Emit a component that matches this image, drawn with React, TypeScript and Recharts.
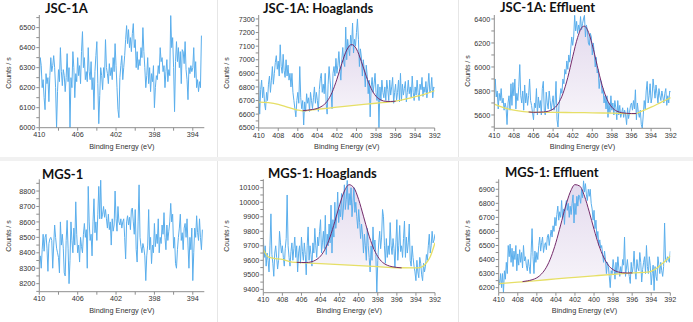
import React from 'react';
import { ComposedChart, XAxis, YAxis, Line, Area } from 'recharts';

// N 1s scans, 0.1 eV steps starting at 410 eV (counts / s)
const jscRaw = [
  6230, 6350, 6310, 6200, 6240, 6150, 6090, 6270, 6220, 6250,
  6130, 6260, 6350, 6280, 6310, 6360, 6300, 6200, 6000, 6180,
  6290, 6230, 6400, 6280, 6210, 6290, 6260, 6180, 6250, 6370,
  6230, 6300, 5990, 6250, 6200, 6380, 6300, 6150, 6270, 6230,
  6350, 6260, 6310, 6220, 6380, 6480, 6300, 6350, 6240, 6280,
  6230, 6400, 6280, 6240, 6330, 6190, 6250, 6090, 6280, 6360,
  6430, 6220, 6020, 6160, 6300, 6260, 6190, 6300, 6250, 6440,
  6300, 6270, 6220, 6320, 6260, 6300, 6240, 6350, 6280, 6420,
  6310, 6200, 6090, 6050, 6250, 6310, 6360, 6240, 6300, 6360,
  6440, 6510, 6420, 6490, 6400, 6450, 6380, 6470, 6520, 6400,
  6440, 6300, 6380, 6290, 6340, 6310, 6400, 6350, 6500, 6380,
  6300, 6200, 6260, 6350, 6220, 6300, 6180, 6270, 6230, 6310,
  6100, 6200, 6260, 6240, 6310, 6270, 6400, 6330, 6350, 6280,
  6310, 6200, 6280, 6340, 6230, 6290, 6260, 6560, 6400, 6450,
  6300, 6080, 6330, 6430, 6330, 6400, 6300, 6380, 6220, 6390,
  6380, 6320, 6430, 6290, 6240, 6140, 6300, 6270, 6310, 6280,
  6300, 6400, 6250, 6330, 6200, 6240, 6180, 6230, 6200, 6460,
];

const jscHoaglands = [
  6840, 6600, 6780, 6850, 6720, 6800, 6680, 6630, 6760, 6700,
  6820, 6880, 6760, 6850, 6950, 6820, 6900, 6980, 7030, 6930,
  6990, 6880, 7110, 6950, 6900, 7040, 6920, 6870, 7000, 6880,
  6960, 6850, 6900, 6800, 6900, 6760, 6700, 6640, 6580, 6700,
  6760, 6680, 6950, 6720, 6640, 6700, 6520, 6690, 6620, 6750,
  6680, 6720, 6620, 6760, 6700, 6640, 6720, 6800, 6680, 6760,
  6700, 6620, 6780, 6860, 6900, 6760, 6820, 6750, 6900, 6680,
  6600, 6820, 6950, 6850, 6760, 6640, 6900, 6950, 6880, 7010,
  6900, 6960, 7060, 6940, 6850, 7000, 7090, 6980, 6950, 7240,
  7000, 7150, 7080, 7030, 7180, 7100, 7270, 7050, 7150, 7100,
  7200, 7300, 7150, 6950, 7080, 7020, 6880, 7000, 6920, 6800,
  6960, 6880, 6750, 6850, 6580, 6800, 6870, 6760, 6820, 6900,
  6760, 6700, 6820, 6500, 6800, 6700, 6850, 6760, 6720, 6800,
  6700, 6850, 6780, 6700, 6850, 6740, 6800, 6870, 6680, 6760,
  6820, 6700, 6760, 6850, 6690, 6900, 6700, 6820, 6740, 6790,
  6840, 6690, 6760, 6850, 6750, 6800, 6720, 6880, 6760, 6700,
  6800, 6740, 6850, 6760, 6700, 6820, 6780, 6870, 6730, 6800,
  6760, 6840, 6720, 6800, 6900, 6760, 6780, 6870, 6720, 6800,
  6790,
];

const jscEffluent = [
  5700, 5900, 5750, 5800, 5650, 5780, 5720, 5820, 5700, 5740,
  5640, 5700, 5660, 5520, 5700, 5760, 5640, 5860, 5680, 5870,
  5760, 5900, 5650, 5780, 5720, 5840, 6020, 5760, 5700, 5800,
  5640, 5850, 5700, 5780, 5680, 5760, 5900, 5720, 5680, 5620,
  5560, 5700, 5660, 5820, 5600, 5750, 5660, 5720, 5600, 5820,
  5880, 5640, 5600, 5790, 5700, 5650, 5800, 5720, 5640, 5700,
  5760, 5640, 5700, 5880, 5560, 5500, 5680, 5750, 5820, 5780,
  5900, 5860, 5980, 5940, 6050, 5980, 6100, 6040, 6150, 6250,
  6180, 6250, 6430, 6300, 6380, 6280, 6350, 6300, 6420, 6310,
  6360, 6400, 6430, 6250, 6350, 6300, 6200, 6180, 6280, 6250,
  6100, 6200, 6120, 6000, 6080, 5950, 5980, 5820, 5900, 5880,
  5780, 5820, 5700, 5760, 5650, 5760, 5580, 5700, 5620, 5760,
  5640, 5700, 5600, 5720, 5660, 5560, 5720, 5600, 5680, 5580,
  5620, 5660, 5580, 5640, 5600, 5520, 5660, 5570, 5620, 5680,
  5700, 5640, 5720, 5650, 5810, 5560, 5700, 5620, 5580, 5640,
  5520, 5490, 5600, 5720, 5650, 5800, 5880, 5700, 5760, 5860,
  5700, 5750, 5900, 5820, 5740, 5850, 5780, 5700, 5820, 5760,
  5720, 5800, 5750, 5700, 5780, 5820, 5680, 5760, 5700, 5800,
  5790,
];

const mgsRaw = [
  8330, 8380, 8300, 8420, 8520, 8410, 8500, 8520, 8430, 8280,
  8460, 8490, 8500, 8480, 8300, 8450, 8580, 8500, 8430, 8400,
  8370, 8270, 8600, 8450, 8520, 8430, 8270, 8250, 8480, 8610,
  8430, 8200, 8350, 8600, 8480, 8400, 8560, 8450, 8730, 8520,
  8400, 8450, 8340, 8500, 8440, 8400, 8520, 8590, 8500, 8550,
  8300, 8830, 8600, 8480, 8520, 8380, 8600, 8750, 8530, 8600,
  8480, 8650, 8830, 8620, 8870, 8620, 8650, 8700, 8630, 8680,
  8620, 8560, 8650, 8550, 8600, 8450, 8620, 8540, 8580, 8800,
  8620, 8540, 8700, 8600, 8580, 8620, 8560, 8600, 8620, 8500,
  8360, 8600, 8640, 8580, 8630, 8550, 8680, 8690, 8600, 8520,
  8680, 8420, 8340, 8600, 8840, 8500, 8440, 8400, 8460, 8430,
  8380, 8220, 8380, 8450, 8680, 8420, 8500, 8330, 8450, 8400,
  8590, 8440, 8520, 8460, 8620, 8400, 8500, 8460, 8580, 8520,
  8660, 8500, 8420, 8580, 8480, 8540, 8600, 8720, 8600, 8650,
  8430, 8500, 8330, 8300, 8420, 8500, 8560, 8650, 8480, 8530,
  8420, 8560, 8590, 8500, 8620, 8450, 8300, 8500, 8420, 8560,
  8220, 8400, 8560, 8500, 8640, 8530, 8480, 8620, 8500, 8420,
  8550,
];

const mgsHoaglands = [
  9750, 9620, 9700, 9560, 9650, 9600, 9520, 9700, 9920, 9640,
  9580, 9490, 9650, 9700, 9620, 9540, 9600, 9800, 9720, 9650,
  9700, 9620, 9560, 9680, 9750, 10050, 9700, 9620, 9560, 9660,
  9720, 9600, 9680, 9760, 9620, 9700, 9520, 9650, 9700, 9580,
  9760, 9660, 9600, 9720, 9640, 9500, 9700, 9830, 9600, 9700,
  9640, 9560, 9720, 9650, 9820, 9700, 9620, 9760, 9700, 9800,
  9880, 9650, 9720, 9800, 9680, 9910, 9640, 9780, 9700, 9850,
  9720, 9980, 9650, 9880, 9760, 10000, 9820, 9900, 10070, 9860,
  9950, 9900, 10060, 9880, 9960, 10120, 9950, 10020, 10150, 9950,
  10060, 9980, 10100, 9900, 10000, 10100, 9930, 10000, 9900, 9820,
  9950, 9860, 9750, 9850, 9780, 9650, 9780, 9700, 9600, 9820,
  9700, 9620, 9520, 9700, 9600, 9830, 9680, 9740, 9640, 9370,
  9600, 9720, 9800, 9680, 9760, 9950, 9900, 9700, 9580, 9750,
  9620, 9700, 9640, 9860, 9700, 9640, 9750, 9680, 9550, 9720,
  9880, 9600, 9700, 9840, 9660, 9700, 9620, 9750, 9870, 9620,
  9760, 9650, 9720, 9850, 9600, 9560, 9700, 9620, 9560, 9520,
  9460, 9600, 9520, 9480, 9620, 9580, 9500, 9460, 9580, 9520,
  9560, 9640, 9600, 9700, 9780, 9650, 9700, 9800, 9720, 9740,
  9780,
];

const mgsEffluent = [
  6260, 6220, 6300, 6200, 6300, 6160, 6320, 6260, 6380, 6300,
  6500, 6420, 6510, 6380, 6480, 6350, 6460, 6400, 6500, 6320,
  6440, 6360, 6470, 6380, 6450, 6340, 6500, 6390, 6420, 6360,
  6320, 6400, 6350, 6300, 6450, 6620, 6420, 6300, 6460, 6380,
  6450, 6400, 6500, 6560, 6460, 6520, 6560, 6450, 6500, 6520,
  6470, 6560, 6580, 6500, 6560, 6610, 6560, 6640, 6600, 6700,
  6640, 6720, 6780, 6680, 6740, 6700, 6820, 6700, 6760, 6650,
  6780, 6820, 6750, 6800, 6700, 6780, 6720, 6800, 6860, 6660,
  6800, 6720, 6850, 6780, 6860, 6840, 6800, 6900, 6840, 6960,
  6880, 6940, 6860, 6820, 6900, 6850, 6900, 6800, 6760, 6680,
  6750, 6620, 6680, 6550, 6600, 6500, 6540, 6480, 6500, 6440,
  6380, 6460, 6400, 6300, 6380, 6350, 6280, 6200, 6320, 6300,
  6400, 6340, 6260, 6380, 6300, 6420, 6340, 6280, 6350, 6300,
  6400, 6360, 6560, 6280, 6340, 6400, 6320, 6280, 6230, 6380,
  6300, 6350, 6460, 6320, 6260, 6400, 6340, 6320, 6450, 6380,
  6240, 6330, 6380, 6420, 6300, 6500, 6350, 6300, 6420, 6360,
  6220, 6300, 6360, 6180, 6350, 6280, 6250, 6420, 6360, 6300,
  6380, 6320, 6280, 6350, 6660, 6400, 6380, 6420, 6400, 6380,
  6460,
];

// fitted N 1s component and its background under the peak
const jscHoagFitE = [405.5, 405, 404.5, 404, 403.5, 403, 402.5, 402, 401.5, 401, 400.5, 400, 399.5, 399, 398.5, 398, 397.5, 397, 396.5, 396];
const jscHoagFit = [6625, 6629, 6634, 6642, 6660, 6694, 6759, 6857, 6972, 7071, 7112, 7079, 6987, 6879, 6789, 6731, 6704, 6694, 6693, 6695];
const jscHoagFitBg = [6625, 6629, 6632, 6636, 6640, 6643, 6647, 6651, 6654, 6658, 6662, 6666, 6669, 6673, 6677, 6680, 6684, 6688, 6691, 6695];
const jscHoagBgE = [410, 409, 408, 407, 406, 405.5, 404, 402, 400, 398, 396, 395, 394, 393, 392];
const jscHoagBg = [6688, 6684, 6672, 6650, 6630, 6625, 6636, 6651, 6666, 6680, 6695, 6710, 6728, 6748, 6772];

const jscEffFitE = [406.5, 406, 405.5, 405, 404.5, 404, 403.5, 403, 402.5, 402, 401.5, 401, 400.8, 400.5, 400, 399.5, 399, 398.5, 398, 397.5, 397, 396.5, 396, 395.5];
const jscEffFit = [5625, 5622, 5623, 5625, 5631, 5649, 5692, 5777, 5913, 6085, 6245, 6335, 6340, 6311, 6185, 6011, 5848, 5731, 5664, 5632, 5619, 5614, 5612, 5612];
const jscEffFitBg = [5625, 5622, 5622, 5622, 5622, 5622, 5621, 5621, 5620, 5620, 5620, 5619, 5619, 5619, 5618, 5617, 5617, 5616, 5615, 5614, 5613, 5613, 5612, 5612];
const jscEffBgE = [410, 409, 408, 407, 406, 404, 402, 400, 398, 396, 395.6, 395, 394, 393, 392];
const jscEffBg = [5690, 5660, 5640, 5628, 5622, 5622, 5620, 5618, 5615, 5612, 5612, 5630, 5665, 5705, 5745];

const mgsHoagFitE = [406.5, 406, 405.5, 405, 404.5, 404, 403.5, 403, 402.5, 402, 401.5, 401, 400.5, 400, 399.5, 399, 398.5, 398, 397.5, 397, 396.5, 396, 395.5];
const mgsHoagFit = [9586, 9585, 9585, 9589, 9602, 9629, 9680, 9761, 9867, 9982, 10077, 10121, 10099, 10018, 9904, 9788, 9692, 9626, 9586, 9566, 9556, 9551, 9548];
const mgsHoagFitBg = [9586, 9584, 9582, 9580, 9579, 9577, 9575, 9574, 9572, 9570, 9568, 9566, 9565, 9563, 9561, 9560, 9558, 9556, 9554, 9553, 9551, 9549, 9548];
const mgsHoagBgE = [410, 409.5, 409, 408, 407, 406.5, 406, 404, 402, 400, 398, 396, 394, 393.5, 393, 392.5, 392];
const mgsHoagBg = [9675, 9625, 9615, 9606, 9588, 9586, 9584, 9577, 9570, 9563, 9556, 9549, 9548, 9552, 9575, 9625, 9721];

const mgsEffFitE = [407.5, 407, 406.5, 406, 405.5, 405, 404.5, 404, 403.5, 403, 402.5, 402, 401.5, 401, 400.5, 400, 399.5, 399, 398.5, 398, 397.5, 397, 396.5, 396];
const mgsEffFit = [6243, 6248, 6256, 6270, 6298, 6345, 6419, 6521, 6646, 6774, 6879, 6933, 6923, 6851, 6739, 6615, 6503, 6418, 6360, 6328, 6312, 6306, 6304, 6305];
const mgsEffFitBg = [6242, 6245, 6248, 6250, 6253, 6256, 6259, 6262, 6264, 6267, 6270, 6273, 6276, 6278, 6281, 6284, 6287, 6290, 6292, 6295, 6298, 6300, 6302, 6305];
const mgsEffBgE = [410, 408, 406, 404, 402, 400, 398, 396, 394.2, 393.5, 393, 392.5, 392];
const mgsEffBg = [6228, 6239, 6250, 6262, 6273, 6284, 6295, 6305, 6312, 6335, 6362, 6392, 6425];

// axis ticks
const xTicksWide = [410, 408, 406, 404, 402, 400, 398, 396, 394, 392];
const xTicksNarrow = [410, 408, 406, 404, 402, 400, 398, 396, 394];
const xLabelsNarrow = [410, 406, 402, 398, 394];
const jscRawTicks = [6000, 6050, 6100, 6150, 6200, 6250, 6300, 6350, 6400, 6450, 6500, 6550];
const jscRawLabels = [6000, 6100, 6200, 6300, 6400, 6500];
const jscHoagTicks = [6500, 6550, 6600, 6650, 6700, 6750, 6800, 6850, 6900, 6950, 7000, 7050, 7100, 7150, 7200, 7250, 7300];
const jscHoagLabels = [6500, 6600, 6700, 6800, 6900, 7000, 7100, 7200, 7300];
const jscEffTicks = [5500, 5600, 5700, 5800, 5900, 6000, 6100, 6200, 6300, 6400];
const jscEffLabels = [5600, 5800, 6000, 6200, 6400];
const mgsRawTicks = [8150, 8200, 8250, 8300, 8350, 8400, 8450, 8500, 8550, 8600, 8650, 8700, 8750, 8800, 8850];
const mgsRawLabels = [8200, 8300, 8400, 8500, 8600, 8700, 8800];
const mgsHoagTicks = [9400, 9450, 9500, 9550, 9600, 9650, 9700, 9750, 9800, 9850, 9900, 9950, 10000, 10050, 10100, 10150];
const mgsHoagLabels = [9400, 9500, 9600, 9700, 9800, 9900, 10000, 10100];
const mgsEffTicks = [6200, 6250, 6300, 6350, 6400, 6450, 6500, 6550, 6600, 6650, 6700, 6750, 6800, 6850, 6900, 6950];
const mgsEffLabels = [6200, 6300, 6400, 6500, 6600, 6700, 6800, 6900];

const BLUE = '#5aaeec';
const PURPLE = '#742a6a';
const YELLOW = '#e6df66';
const AXIS = '#8e8e8e';
const TEXT = '#333';
const SANS = '"Liberation Sans", Arial, sans-serif';

type Pt = { e: number; c: number };

const scan = (counts: number[]): Pt[] =>
  counts.map((c, i) => ({ e: Math.round((410 - i * 0.1) * 10) / 10, c }));
const pairs = (es: number[], vs: number[]): Pt[] => es.map((e, i) => ({ e, c: vs[i] }));
const peak = (es: number[], fit: number[], bg: number[]) =>
  es.map((e, i) => ({ e, fit: fit[i], band: [bg[i], fit[i]] }));

const xTick = (labels: number[]) => (props: any) => {
  const { x, y, payload } = props;
  if (!labels.includes(payload.value)) return <g />;
  return (
    <text x={x} y={y} dy={5.5} textAnchor="middle" fontSize={7.2} fill={TEXT} fontFamily={SANS}>
      {payload.value}
    </text>
  );
};

const yTick = (labels: number[]) => (props: any) => {
  const { x, y, payload } = props;
  if (!labels.includes(payload.value)) return <g />;
  return (
    <text x={x} y={y} dy={2.6} textAnchor="end" fontSize={7.2} fill={TEXT} fontFamily={SANS}>
      {payload.value}
    </text>
  );
};

interface PanelProps {
  id: string;
  box: { left: number; top: number; width: number; height: number };
  plot: { x0: number; x1: number; y0: number; y1: number };
  xDomain: [number, number];
  xTicks: number[];
  xLabels: number[];
  yDomain: [number, number];
  yTicks: number[];
  yLabels: number[];
  spectrum: Pt[];
  background?: Pt[];
  fit?: { e: number; fit: number; band: number[] }[];
}

const Panel = ({ id, box, plot, xDomain, xTicks, xLabels, yDomain, yTicks, yLabels, spectrum, background, fit }: PanelProps) => (
  <div style={{ position: 'absolute', left: box.left, top: box.top }}>
    <ComposedChart
      width={box.width}
      height={box.height}
      margin={{ top: plot.y0 - box.top, right: box.left + box.width - plot.x1, left: 0, bottom: 0 }}
    >
      <defs>
        <linearGradient id={`band-${id}`} x1="0" y1="0" x2="0" y2="1">
          <stop offset="0%" stopColor="#e4dbee" />
          <stop offset="100%" stopColor="#f6f3f9" />
        </linearGradient>
      </defs>
      <XAxis
        type="number"
        dataKey="e"
        domain={xDomain}
        reversed
        allowDataOverflow
        ticks={xTicks}
        interval={0}
        height={box.top + box.height - plot.y1}
        tickSize={3}
        tickMargin={1}
        stroke={AXIS}
        tick={xTick(xLabels)}
      />
      <YAxis
        type="number"
        domain={yDomain}
        allowDataOverflow
        ticks={yTicks}
        interval={0}
        width={plot.x0 - box.left}
        tickSize={3}
        tickMargin={1}
        stroke={AXIS}
        tick={yTick(yLabels)}
      />
      {fit && (
        <Area
          data={fit}
          dataKey="band"
          type="monotone"
          stroke="none"
          fill={`url(#band-${id})`}
          fillOpacity={1}
          isAnimationActive={false}
        />
      )}
      <Line
        data={spectrum}
        dataKey="c"
        type="linear"
        stroke={BLUE}
        strokeWidth={1}
        dot={false}
        activeDot={false}
        isAnimationActive={false}
      />
      {background && (
        <Line
          data={background}
          dataKey="c"
          type="monotone"
          stroke={YELLOW}
          strokeWidth={1.3}
          dot={false}
          activeDot={false}
          isAnimationActive={false}
        />
      )}
      {fit && (
        <Line
          data={fit}
          dataKey="fit"
          type="monotone"
          stroke={PURPLE}
          strokeWidth={1}
          dot={false}
          activeDot={false}
          isAnimationActive={false}
        />
      )}
    </ComposedChart>
  </div>
);

const titles = [
  { text: 'JSC-1A', x: 45, y: 13 },
  { text: 'JSC-1A: Hoaglands', x: 263, y: 12.5 },
  { text: 'JSC-1A: Effluent', x: 500, y: 12 },
  { text: 'MGS-1', x: 42, y: 178.5 },
  { text: 'MGS-1: Hoaglands', x: 268, y: 178 },
  { text: 'MGS-1: Effluent', x: 505, y: 177 },
];

const energyLabels = [
  { x: 121.8, y: 149 },
  { x: 346.7, y: 149 },
  { x: 582.5, y: 149 },
  { x: 121.8, y: 313 },
  { x: 349.2, y: 313 },
  { x: 584.5, y: 313 },
];

const countLabels = [
  { x: 8.5, y: 73 },
  { x: 226.5, y: 73 },
  { x: 467, y: 71 },
  { x: 8.5, y: 236 },
  { x: 226.5, y: 236 },
  { x: 467, y: 236 },
];

export default function App() {
  return (
    <div style={{ position: 'fixed', left: 0, top: 0, width: 693, height: 322, background: '#fff', overflow: 'hidden' }}>
      <svg width={693} height={322} style={{ position: 'absolute', left: 0, top: 0 }}>
        <line x1={217.5} y1={0} x2={217.5} y2={322} stroke="#e6e6e6" />
        <line x1={458.5} y1={0} x2={458.5} y2={322} stroke="#e6e6e6" />
        <rect x={0} y={157} width={693} height={4} fill="#f1f1f1" />
        {titles.map((t) => (
          <text key={t.text} x={t.x} y={t.y} fontFamily="Lato, 'Open Sans', sans-serif" fontWeight={700} fontSize={13} fill="#111">
            {t.text}
          </text>
        ))}
        {energyLabels.map((p, i) => (
          <text key={`e${i}`} x={p.x} y={p.y} textAnchor="middle" fontFamily={SANS} fontSize={7.3} fill={TEXT}>
            Binding Energy (eV)
          </text>
        ))}
        {countLabels.map((p, i) => (
          <text
            key={`c${i}`}
            x={p.x}
            y={p.y}
            textAnchor="middle"
            dominantBaseline="central"
            transform={`rotate(-90 ${p.x} ${p.y})`}
            fontFamily={SANS}
            fontSize={7}
            fill={TEXT}
          >
            Counts / s
          </text>
        ))}
      </svg>

      <Panel
        id="a"
        box={{ left: 0, top: 0, width: 217, height: 156 }}
        plot={{ x0: 39.3, x1: 204.3, y0: 15, y1: 127.7 }}
        xDomain={[392.8, 410]}
        xTicks={xTicksNarrow}
        xLabels={xLabelsNarrow}
        yDomain={[6000, 6563]}
        yTicks={jscRawTicks}
        yLabels={jscRawLabels}
        spectrum={scan(jscRaw)}
      />
      <Panel
        id="b"
        box={{ left: 218, top: 0, width: 240, height: 156 }}
        plot={{ x0: 258.7, x1: 434.7, y0: 15, y1: 128 }}
        xDomain={[392, 410]}
        xTicks={xTicksWide}
        xLabels={xTicksWide}
        yDomain={[6498, 7329]}
        yTicks={jscHoagTicks}
        yLabels={jscHoagLabels}
        spectrum={scan(jscHoaglands)}
        background={pairs(jscHoagBgE, jscHoagBg)}
        fit={peak(jscHoagFitE, jscHoagFit, jscHoagFitBg)}
      />
      <Panel
        id="c"
        box={{ left: 459, top: 0, width: 234, height: 156 }}
        plot={{ x0: 494.3, x1: 670.7, y0: 15, y1: 128.3 }}
        xDomain={[392, 410]}
        xTicks={xTicksWide}
        xLabels={xTicksWide}
        yDomain={[5489, 6433]}
        yTicks={jscEffTicks}
        yLabels={jscEffLabels}
        spectrum={scan(jscEffluent)}
        background={pairs(jscEffBgE, jscEffBg)}
        fit={peak(jscEffFitE, jscEffFit, jscEffFitBg)}
      />
      <Panel
        id="d"
        box={{ left: 0, top: 161, width: 217, height: 161 }}
        plot={{ x0: 39.3, x1: 204.3, y0: 179.3, y1: 291.7 }}
        xDomain={[392.8, 410]}
        xTicks={xTicksNarrow}
        xLabels={xLabelsNarrow}
        yDomain={[8148, 8876]}
        yTicks={mgsRawTicks}
        yLabels={mgsRawLabels}
        spectrum={scan(mgsRaw)}
      />
      <Panel
        id="e"
        box={{ left: 218, top: 161, width: 240, height: 161 }}
        plot={{ x0: 263.3, x1: 435, y0: 179.3, y1: 292.7 }}
        xDomain={[392, 410]}
        xTicks={xTicksWide}
        xLabels={xTicksWide}
        yDomain={[9377, 10158]}
        yTicks={mgsHoagTicks}
        yLabels={mgsHoagLabels}
        spectrum={scan(mgsHoaglands)}
        background={pairs(mgsHoagBgE, mgsHoagBg)}
        fit={peak(mgsHoagFitE, mgsHoagFit, mgsHoagFitBg)}
      />
      <Panel
        id="f"
        box={{ left: 459, top: 161, width: 234, height: 161 }}
        plot={{ x0: 498.7, x1: 670.3, y0: 179.3, y1: 292.7 }}
        xDomain={[392, 410]}
        xTicks={xTicksWide}
        xLabels={xTicksWide}
        yDomain={[6164, 6971]}
        yTicks={mgsEffTicks}
        yLabels={mgsEffLabels}
        spectrum={scan(mgsEffluent)}
        background={pairs(mgsEffBgE, mgsEffBg)}
        fit={peak(mgsEffFitE, mgsEffFit, mgsEffFitBg)}
      />
    </div>
  );
}
